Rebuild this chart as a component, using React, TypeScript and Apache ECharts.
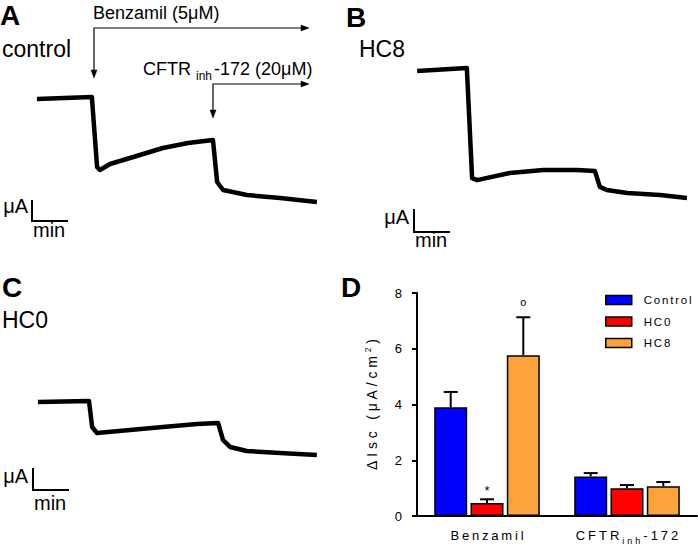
import React, { useEffect, useRef } from "react";
import * as echarts from "echarts";

const FONT = "'Liberation Sans', Arial, Helvetica, sans-serif";

// ---- Panel A (control): time (min) and current (μA) relative to scale-bar origin
const traceATime = [0.14, 1.71, 1.86, 1.94, 2.23, 2.8, 3.74, 4.46, 5.17, 5.29, 5.46, 6.14, 7.09, 8.14];
const traceACurrent = [6.1, 6.2, 2.7, 2.55, 2.85, 3.15, 3.65, 3.9, 4.05, 1.95, 1.55, 1.3, 1.15, 0.95];

// ---- Panel B (HC8)
const traceBTime = [0.09, 1.51, 1.66, 1.8, 2.74, 3.69, 4.66, 5.17, 5.31, 5.51, 6.09, 7.03, 7.8];
const traceBCurrent = [7.32, 7.45, 2.45, 2.36, 2.68, 2.82, 2.82, 2.77, 2.05, 1.91, 1.77, 1.68, 1.55];

// ---- Panel C (HC0)
const traceCTime = [0.14, 1.6, 1.69, 1.83, 2.77, 3.71, 4.69, 5.29, 5.43, 5.63, 6.11, 7.06, 8.11];
const traceCCurrent = [4.19, 4.24, 3.0, 2.71, 2.86, 3.0, 3.14, 3.19, 2.38, 2.05, 1.86, 1.76, 1.67];

// scale bar: 1 μA vertical, 1 min horizontal
const scaleBarTime = [0, 0, 1];
const scaleBarCurrent = [1, 0, 0];

// ---- Panel D (bar chart)
const categories = ["Benzamil", "CFTRinh-172"];
const groupNames = ["Control", "HC0", "HC8"];
const controlMean = [3.9, 1.42];
const controlSem = [0.55, 0.12];
const hc0Mean = [0.47, 1.0];
const hc0Sem = [0.13, 0.11];
const hc8Mean = [5.77, 1.07];
const hc8Sem = [1.36, 0.15];
const controlMarks = ["", ""];
const hc0Marks = ["*", ""];
const hc8Marks = ["o", ""];
const yMax = 8;
const yInterval = 2;

const colors = ["#0000ff", "#ff0000", "#fca33c"];

const BAR_W = 33;
const BAR_STEP = 36.3;

// letter-spaced texts of panel D (the original uses wide tracking)
const spacedSpecs: { seq: string[]; sp: number; anchor: "start" | "middle"; maxFont: number }[] = [
  { seq: ["Benzamil"], sp: 2.8, anchor: "middle", maxFont: 14 },
  { seq: ["CFTR", "inh", "-172"], sp: 3, anchor: "middle", maxFont: 14 },
  { seq: ["ΔIsc (μA/cm", "2", ")"], sp: 3.8, anchor: "middle", maxFont: 15 },
  { seq: ["Control"], sp: 1.8, anchor: "start", maxFont: 14 },
  { seq: ["HC0"], sp: 1.8, anchor: "start", maxFont: 14 },
  { seq: ["HC8"], sp: 1.8, anchor: "start", maxFont: 14 },
];

function applySpacing(root: HTMLElement) {
  const texts = Array.from(root.querySelectorAll("text")) as SVGTextElement[];
  for (let i = 0; i < texts.length; i++) {
    for (const spec of spacedSpecs) {
      const n = spec.seq.length;
      if (i + n > texts.length) continue;
      let ok = true;
      for (let k = 0; k < n; k++) {
        if ((texts[i + k].textContent || "") !== spec.seq[k]) {
          ok = false;
          break;
        }
      }
      if (!ok) continue;
      const fs = parseFloat(getComputedStyle(texts[i]).fontSize || "0");
      if (!(fs > 0 && fs <= spec.maxFont)) continue;
      const els = texts.slice(i, i + n);
      const ws = els.map((e) => spec.sp * (e.textContent || "").length);
      const total = ws.reduce((a, b) => a + b, 0) - spec.sp;
      const groupShift = spec.anchor === "middle" ? -total / 2 : 0;
      let cum = 0;
      els.forEach((e, k) => {
        const a = e.getAttribute("text-anchor") || "start";
        const anchorShift = a === "middle" ? -ws[k] / 2 : a === "end" ? -ws[k] : 0;
        const dx = cum + groupShift - anchorShift;
        if (!e.hasAttribute("data-ox")) e.setAttribute("data-ox", e.getAttribute("x") || "0");
        const ox = parseFloat(e.getAttribute("data-ox") || "0");
        e.setAttribute("letter-spacing", String(spec.sp));
        e.style.letterSpacing = spec.sp + "px";
        e.setAttribute("x", String(ox + dx));
        cum += ws[k];
      });
    }
  }
}

function pairs(xs: number[], ys: number[]) {
  return xs.map((x, i) => [x, ys[i]]);
}

function traceSeries(idx: number, xs: number[], ys: number[]) {
  return [
    {
      type: "line",
      xAxisIndex: idx,
      yAxisIndex: idx,
      data: pairs(xs, ys),
      showSymbol: false,
      symbol: "none",
      silent: true,
      lineStyle: { color: "#000", width: 4.5, join: "round" },
    },
    {
      type: "line",
      xAxisIndex: idx,
      yAxisIndex: idx,
      data: pairs(scaleBarTime, scaleBarCurrent),
      showSymbol: false,
      symbol: "none",
      silent: true,
      lineStyle: { color: "#000", width: 2, join: "miter", cap: "square" },
    },
  ];
}

function errorSeries(means: number[], sems: number[], marks: string[], slot: number) {
  return {
    type: "custom",
    xAxisIndex: 3,
    yAxisIndex: 3,
    z: 5,
    silent: true,
    data: means.map((m, i) => [i, m, m + sems[i]]),
    renderItem: (params: any, api: any) => {
      const c = api.coord([api.value(0), api.value(1)]);
      const t = api.coord([api.value(0), api.value(2)]);
      const x = c[0] + (slot - 1) * BAR_STEP;
      const children: any[] = [
        { type: "line", shape: { x1: x, y1: c[1], x2: x, y2: t[1] }, style: { stroke: "#000", lineWidth: 2 } },
        { type: "line", shape: { x1: x - 7, y1: t[1], x2: x + 7, y2: t[1] }, style: { stroke: "#000", lineWidth: 2 } },
      ];
      const mk = marks[params.dataIndex];
      if (mk) {
        children.push({
          type: "text",
          x,
          y: t[1] - (mk === "*" ? 9 : 15),
          style: {
            text: mk,
            fontSize: mk === "*" ? 13 : 11,
            fontFamily: FONT,
            fill: "#000",
            align: "center",
            verticalAlign: "middle",
          },
        });
      }
      return { type: "group", children };
    },
  };
}

function txt(x: number, y: number, text: string, size: number, opts: any = {}) {
  return {
    type: "text",
    x,
    y,
    silent: true,
    style: {
      text,
      fontSize: size,
      fontFamily: FONT,
      fill: "#000",
      align: "left",
      verticalAlign: "middle",
      ...opts,
    },
  };
}

function poly(points: number[][], lw = 1.2) {
  return { type: "polyline", silent: true, shape: { points }, style: { stroke: "#000", lineWidth: lw, fill: null } };
}
function head(points: number[][]) {
  return { type: "polygon", silent: true, shape: { points }, style: { fill: "#000", stroke: "#000", lineWidth: 0.5 } };
}

export default function App() {
  const ref = useRef<HTMLDivElement>(null);
  useEffect(() => {
    if (!ref.current) return;
    const el = ref.current;
    const chart = echarts.init(el, undefined, { renderer: "svg" });
    const hiddenX = (max: number) => ({ type: "value", min: 0, max, show: false });
    const hiddenY = (min: number, max: number) => ({ type: "value", min, max, show: false });
    const option: any = {
      animation: false,
      grid: [
        { left: 32, top: 81, width: 294, height: 150 },
        { left: 414, top: 56, width: 280, height: 187 },
        { left: 33, top: 385, width: 294, height: 115.5 },
        { left: 417, top: 293, width: 280, height: 223 },
      ],
      xAxis: [
        { ...hiddenX(8.4), gridIndex: 0 },
        { ...hiddenX(8), gridIndex: 1 },
        { ...hiddenX(8.4), gridIndex: 2 },
        {
          type: "category",
          gridIndex: 3,
          data: categories,
          axisLine: { lineStyle: { color: "#000", width: 2 } },
          axisTick: { show: false },
          axisLabel: {
            interval: 0,
            margin: 10,
            color: "#000",
            formatter: (v: string, i: number) => (i === 1 ? "{a|CFTR}{s|inh}{a|-172}" : `{a|${v}}`),
            rich: {
              a: { fontSize: 13, fontFamily: FONT, color: "#000", lineHeight: 19 },
              s: { fontSize: 9, fontFamily: FONT, color: "#000", padding: [10, 0, 0, 0] },
            },
          },
        },
      ],
      yAxis: [
        { ...hiddenY(-0.5, 7), gridIndex: 0 },
        { ...hiddenY(-0.5, 8), gridIndex: 1 },
        { ...hiddenY(-0.5, 5), gridIndex: 2 },
        {
          type: "value",
          gridIndex: 3,
          min: 0,
          max: yMax,
          interval: yInterval,
          splitLine: { show: false },
          axisLine: { show: true, lineStyle: { color: "#000", width: 2 } },
          axisTick: { show: true, length: 5, lineStyle: { color: "#000", width: 2 } },
          axisLabel: { color: "#000", fontSize: 13, fontFamily: FONT, margin: 15 },
          name: "{a|ΔIsc (μA/cm}{s|2}{a|)}",
          nameLocation: "middle",
          nameGap: 36,
          nameTextStyle: {
            rich: {
              a: { fontSize: 14, fontFamily: FONT, color: "#000" },
              s: { fontSize: 8.5, fontFamily: FONT, color: "#000", padding: [0, 0, 9, 0] },
            },
          },
        },
      ],
      legend: {
        data: groupNames,
        orient: "vertical",
        left: 605,
        top: 294,
        padding: 0,
        itemWidth: 26,
        itemHeight: 9,
        itemGap: 9.5,
        icon: "rect",
        selectedMode: false,
        itemStyle: { borderColor: "#000", borderWidth: 1.5 },
        textStyle: { fontSize: 11.5, fontFamily: FONT, color: "#000", padding: [0, 0, 0, 7] },
      },
      series: [
        ...traceSeries(0, traceATime, traceACurrent),
        ...traceSeries(1, traceBTime, traceBCurrent),
        ...traceSeries(2, traceCTime, traceCCurrent),
        {
          type: "bar",
          name: groupNames[0],
          xAxisIndex: 3,
          yAxisIndex: 3,
          data: controlMean,
          barWidth: BAR_W,
          itemStyle: { color: colors[0], borderColor: "#000", borderWidth: 1.5 },
        },
        {
          type: "bar",
          name: groupNames[1],
          xAxisIndex: 3,
          yAxisIndex: 3,
          data: hc0Mean,
          barWidth: BAR_W,
          itemStyle: { color: colors[1], borderColor: "#000", borderWidth: 1.5 },
        },
        {
          type: "bar",
          name: groupNames[2],
          xAxisIndex: 3,
          yAxisIndex: 3,
          data: hc8Mean,
          barWidth: BAR_W,
          barGap: "10%",
          itemStyle: { color: colors[2], borderColor: "#000", borderWidth: 1.5 },
        },
        errorSeries(controlMean, controlSem, controlMarks, 0),
        errorSeries(hc0Mean, hc0Sem, hc0Marks, 1),
        errorSeries(hc8Mean, hc8Sem, hc8Marks, 2),
      ],
      graphic: [
        txt(0, 15, "A", 28, { fontWeight: "bold" }),
        txt(2, 49, "control", 23),
        txt(346, 17, "B", 28, { fontWeight: "bold" }),
        txt(359, 49, "HC8", 23),
        txt(2, 287, "C", 28, { fontWeight: "bold" }),
        txt(2, 320, "HC0", 23),
        txt(341, 287.5, "D", 28, { fontWeight: "bold" }),
        txt(93, 12.5, "Benzamil (5μM)", 18),
        txt(143, 69, "CFTR", 18),
        txt(196, 76, "inh", 12),
        txt(214, 69, "-172 (20μM)", 18),
        poly([[307, 28], [94, 28], [94, 75]]),
        head([[301, 25], [309, 28], [301, 31]]),
        head([[91, 70], [94, 78], [97, 70]]),
        poly([[307, 84], [213, 84], [213, 113]]),
        head([[301, 81], [309, 84], [301, 87]]),
        head([[210, 110], [213, 118], [216, 110]]),
        txt(28, 206, "μA", 20, { align: "right" }),
        txt(33, 230, "min", 20),
        txt(409, 217, "μA", 20, { align: "right" }),
        txt(415, 240, "min", 20),
        txt(28, 476, "μA", 20, { align: "right" }),
        txt(34, 503, "min", 20),
      ],
    };
    chart.setOption(option);
    applySpacing(el);
    const onFinished = () => applySpacing(el);
    chart.on("finished", onFinished);
    const raf = requestAnimationFrame(() => applySpacing(el));
    return () => {
      cancelAnimationFrame(raf);
      chart.off("finished", onFinished);
      chart.dispose();
    };
  }, []);
  return (
    <div
      ref={ref}
      style={{ position: "absolute", left: 0, top: 0, width: 698, height: 547, background: "#fff" }}
    />
  );
}
